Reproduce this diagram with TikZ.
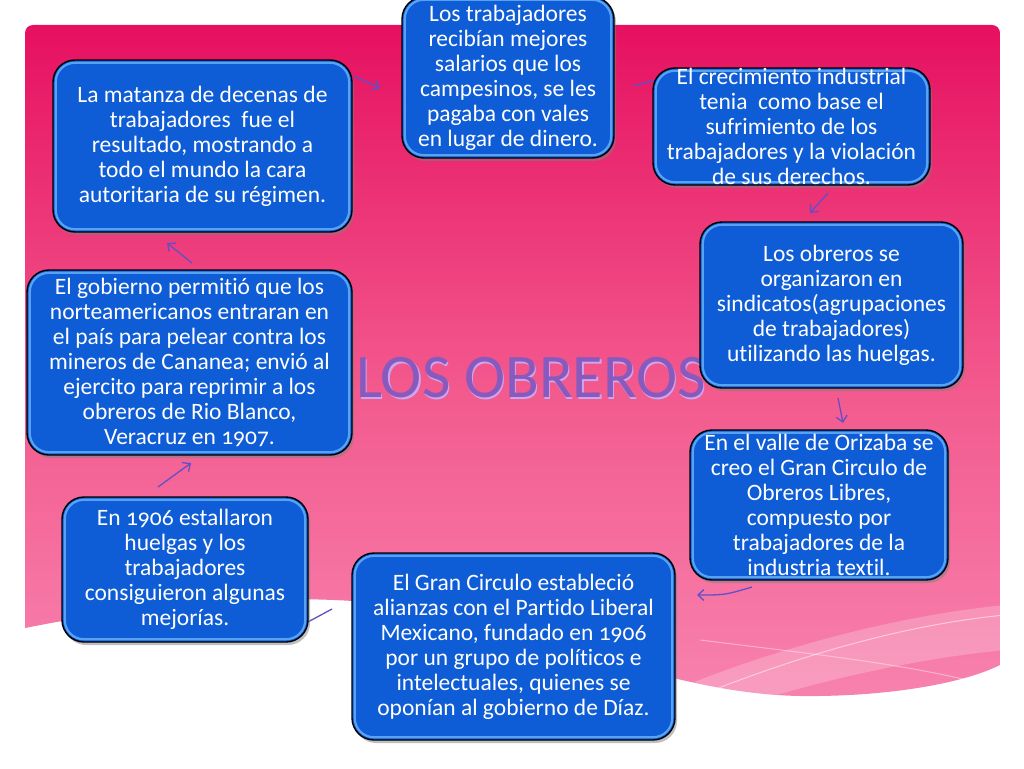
\documentclass[tikz,border=0pt]{standalone}
\usepackage{fontspec}
\setmainfont{Carlito}[Numbers=OldStyle, Ligatures=NoCommon]
\usetikzlibrary{arrows.meta,shadows}
\definecolor{pinkTop}{RGB}{230,16,96}
\definecolor{pinkMid}{RGB}{243,90,142}
\definecolor{pinkBot}{RGB}{248,138,180}
\definecolor{boxblue}{RGB}{14,92,214}
\definecolor{bevelc}{RGB}{100,175,250}
\definecolor{arrowc}{RGB}{96,80,200}
\definecolor{titlec}{RGB}{136,90,190}
\definecolor{titleglow}{RGB}{205,165,238}
\newcommand\bev[1]{\draw[bevel] ([shift={(3.5pt,3.5pt)}]#1.south west) rectangle ([shift={(-3.5pt,-3.5pt)}]#1.north east);}
\begin{document}
\begin{tikzpicture}[x=1pt,y=-1pt,
  box/.style={draw=black, line width=1.4pt, fill=boxblue, rounded corners=22pt,
    drop shadow={shadow xshift=2pt, shadow yshift=-3pt, opacity=.5}, inner sep=0pt},
  bevel/.style={draw=bevelc, line width=2.2pt, rounded corners=19pt, opacity=.85},
  txt/.style={text=white, font=\fontsize{23.5}{25}\selectfont, align=center, inner sep=0pt},
  arr/.style={draw=arrowc, line width=1.3pt, -{Straight Barb[length=6pt,width=11pt]}},
  ln/.style={draw=arrowc, line width=1.3pt}]
\useasboundingbox (0,0) rectangle (1024,768);
\fill[white] (0,0) rectangle (1024,768);
% background
\begin{scope}
\clip (0,0) -- (1024,0) -- (1024,665) -- (1000,665)
  .. controls (960,685) and (880,697) .. (800,696)
  .. controls (680,694) and (560,640) .. (440,612)
  .. controls (330,590) and (180,597) .. (25,628) -- (0,628) -- cycle;
\shade[top color=pinkTop, bottom color=pinkBot, middle color=pinkMid, rounded corners=8pt] (25,25) rectangle (1000,760);
\fill[white, opacity=.22] (640,705) .. controls (760,650) and (900,615) .. (1005,605)
  -- (1005,650) .. controls (900,660) and (780,690) .. (700,720) -- cycle;
\draw[white, opacity=.5, line width=1pt] (660,712) .. controls (780,660) and (900,625) .. (1005,615);
\draw[white, opacity=.4, line width=1pt] (700,640) .. controls (820,655) and (920,665) .. (1005,690);
\draw[white, opacity=.35, line width=1pt] (250,640) .. controls (300,610) and (350,600) .. (420,600);
\end{scope}
% title
\node[text=titleglow, font=\fontsize{62}{64}\selectfont, inner sep=0pt] (tglow) at (532.5,379.5) {LOS OBREROS};
\node[text=titlec, font=\fontsize{62}{64}\selectfont, inner sep=0pt] (title) at (531,378) {LOS OBREROS};
% connector coordinates
\coordinate (a1) at (354,76); \coordinate (a2) at (380,88);
\coordinate (b1s) at (633,86); \coordinate (b2e) at (656,80);
\coordinate (c1) at (828,193); \coordinate (c2) at (810,213);
\coordinate (d1) at (838,398); \coordinate (d2) at (843,423);
\coordinate (e1) at (752,587); \coordinate (e2) at (697,595);
\coordinate (f1) at (332,609); \coordinate (f2) at (306,623);
\coordinate (g1) at (158,487); \coordinate (g2) at (191,463);
\coordinate (h1) at (192,263); \coordinate (h2) at (167,243);
\draw[arr] (a1) -- (a2);
\draw[ln] (b1s) -- (b2e);
\draw[arr] (c1) -- (c2);
\draw[arr] (d1) -- (d2);
\draw[arr] (e1) .. controls (725,595) .. (e2);
\draw[ln] (f1) -- (f2);
\draw[arr] (g1) -- (g2);
\draw[arr] (h1) -- (h2);
% boxes
\node[box, minimum width=212pt, minimum height=161pt] (b1) at (508,77.5) {};
\node[box, minimum width=277pt, minimum height=117pt] (b2) at (791.5,126.5) {};
\node[box, minimum width=299pt, minimum height=172pt] (b3) at (202.5,146) {};
\node[box, minimum width=263pt, minimum height=166pt] (b4) at (831.5,305) {};
\node[box, minimum width=325pt, minimum height=185pt] (b5) at (189.5,362.5) {};
\node[box, minimum width=258pt, minimum height=150pt] (b6) at (819,505) {};
\node[box, minimum width=246pt, minimum height=145pt] (b7) at (185,569.5) {};
\node[box, minimum width=323pt, minimum height=187pt] (b8) at (513.5,646.5) {};
\bev{b1}\bev{b2}\bev{b3}\bev{b4}\bev{b5}\bev{b6}\bev{b7}\bev{b8}
% texts
\node[txt] (t1) at (b1) {Los trabajadores\\recibían mejores\\salarios que los\\campesinos, se les\\pagaba con vales\\en lugar de dinero.};
\node[txt] (t2) at (b2) {El crecimiento industrial\\tenia\ \ como base el\\sufrimiento de los\\trabajadores y la violación\\de sus derechos.};
\node[txt] (t3) at (b3) {La matanza de decenas de\\trabajadores\ \ fue el\\resultado, mostrando a\\todo el mundo la cara\\autoritaria de su régimen.};
\node[txt] (t4) at (b4) {Los obreros se\\organizaron en\\sindicatos(agrupaciones\\de trabajadores)\\utilizando las huelgas.};
\node[txt] (t5) at (b5) {El gobierno permitió que los\\norteamericanos entraran en\\el país para pelear contra los\\mineros de Cananea; envió al\\ejercito para reprimir a los\\obreros de Rio Blanco,\\Veracruz en 1907.};
\node[txt] (t6) at (b6) {En el valle de Orizaba se\\creo el Gran Circulo de\\Obreros Libres,\\compuesto por\\trabajadores de la\\industria textil.};
\node[txt] (t7) at (b7) {En 1906 estallaron\\huelgas y los\\trabajadores\\consiguieron algunas\\mejorías.};
\node[txt] (t8) at (b8) {El Gran Circulo estableció\\alianzas con el Partido Liberal\\Mexicano, fundado en 1906\\por un grupo de políticos e\\intelectuales, quienes se\\oponían al gobierno de Díaz.};
\end{tikzpicture}
\end{document}
